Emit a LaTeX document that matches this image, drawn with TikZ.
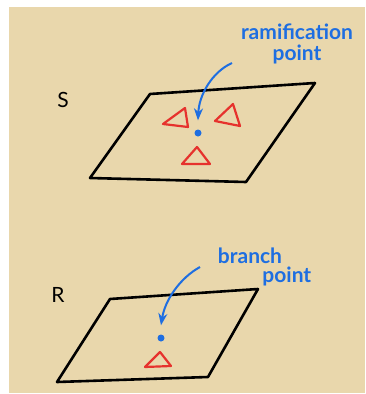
\documentclass[tikz,border=0pt]{standalone}
\usepackage{fontspec}
\setsansfont{Lato}
\usetikzlibrary{arrows.meta,positioning}
\definecolor{paper}{RGB}{233,215,172}
\definecolor{penblue}{RGB}{30,110,225}
\definecolor{penred}{RGB}{230,50,45}

\begin{document}
\begin{tikzpicture}[
  x=1pt, y=-1pt,
  sheet/.style={draw=black, line width=2.6pt, line join=round, line cap=round},
  tri/.style={draw=penred, line width=2.2pt, line join=round},
  spot/.style={circle, fill=penblue, inner sep=0pt, minimum size=7pt},
  note/.style={text=penblue, font=\sffamily\bfseries\fontsize{21}{21}\selectfont, inner sep=0pt},
  letter/.style={font=\sffamily\fontsize{21}{21}\selectfont, inner sep=0pt},
  >=Stealth
]
  \useasboundingbox (0,0) rectangle (365,394);
  \fill[white] (0,0) rectangle (365,394);
  \fill[paper] (9,7) rectangle (365,393);

  % upper surface S
  \node[letter] (labS) at (63,100) {S};
  \draw[sheet] (150,94) -- (315,83) -- (246,182) -- (90,178) -- cycle;
  \draw[tri] (163,124) -- (185,108) -- (188,127) -- cycle;
  \draw[tri] (215,121) -- (233,104) -- (240,126) -- cycle;
  \draw[tri] (182,164) -- (197,147) -- (210,164) -- cycle;
  \node[spot] (dotS) at (198,133) {};
  \node[note] (ramS) at (297,32) {ramification};
  \node[note, below=5pt of ramS] (ptS) {point};
  \coordinate (tailS) at (232,63);
  \draw[->, penblue, line width=2pt] (tailS) .. controls (212,72) and (199,95) .. ([yshift=9pt]dotS.north);

  % lower surface R
  \node[letter] (labR) at (58,295) {R};
  \draw[sheet] (110,299) -- (258,289) -- (208,377) -- (57,382) -- cycle;
  \draw[tri] (145,367) -- (160,352) -- (171,366) -- cycle;
  \node[spot] (dotR) at (161,338) {};
  \node[note] (brR) at (250,256) {branch};
  \node[note, below right=3pt and -20pt of brR] (ptR) {point};
  \coordinate (tailR) at (200,267);
  \draw[->, penblue, line width=2pt] (tailR) .. controls (180,278) and (165,300) .. ([yshift=9pt]dotR.north);
\end{tikzpicture}
\end{document}
